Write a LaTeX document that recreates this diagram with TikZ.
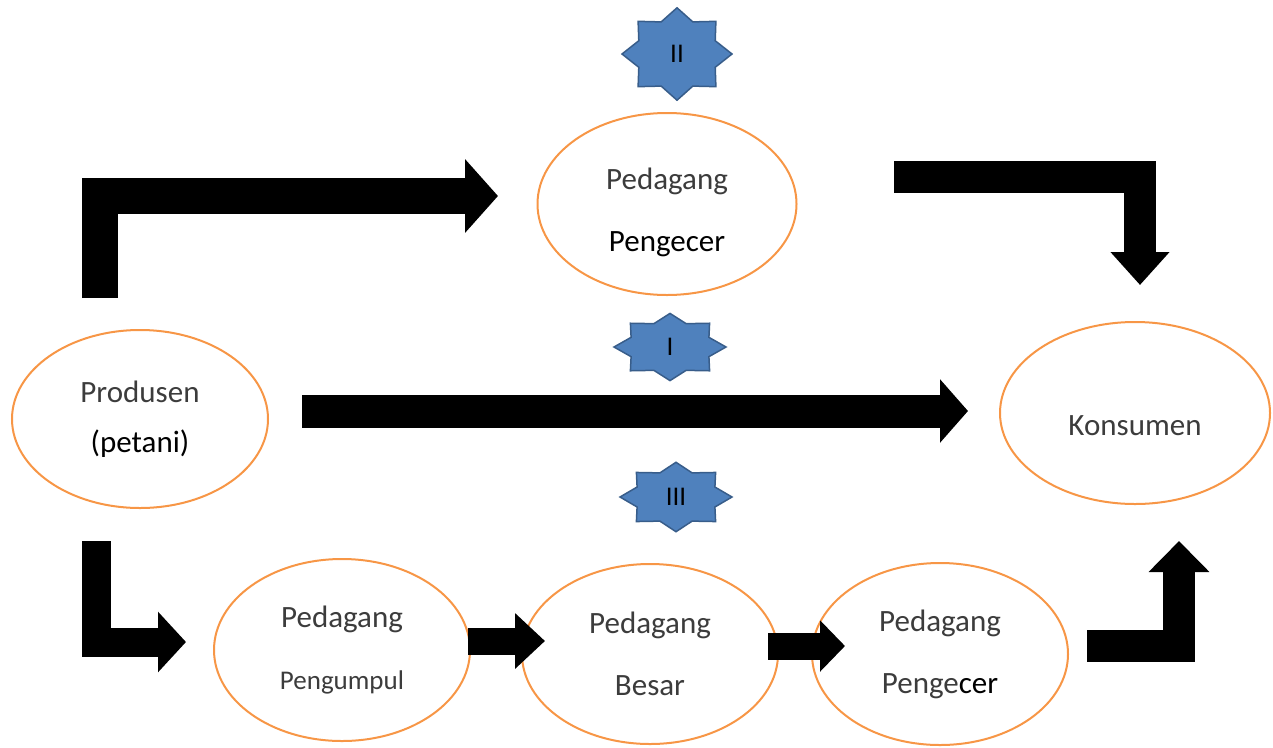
\documentclass[tikz,border=0pt]{standalone}
\usepackage{fontspec}
\setmainfont{Carlito}
\usetikzlibrary{arrows.meta,shapes.geometric}

\definecolor{ringorange}{HTML}{F79646}
\definecolor{badgeblue}{HTML}{4F81BD}
\definecolor{badgeedge}{HTML}{385D8A}
\definecolor{inkgray}{HTML}{3C3C3C}

\begin{document}
\begin{tikzpicture}[
		x=1pt, y=-1pt,
		actor/.style={
			ellipse,
			draw=ringorange,
			line width=2pt,
			inner sep=0pt,
			minimum width=256pt,
			minimum height=180pt,
			align=center,
			text=inkgray,
			font=\fontsize{31}{62}\selectfont
		},
		badge/.style={
			star,
			star points=8,
			star point ratio=1.33,
			fill=badgeblue,
			draw=badgeedge,
			line width=1.5pt,
			inner sep=0pt,
			transform shape
		},
		badgelabel/.style={font=\fontsize{27}{30}\selectfont, text=black},
		flow/.style n args={3}{
			line width=#1,
			line cap=butt,
			line join=miter,
			-{Triangle[length=#2, width=#3]}
		}
		]
		\useasboundingbox (0,0) rectangle (1273,747);
		
		% Actors
		\node[actor, minimum width=256pt, minimum height=178pt, font=\fontsize{31}{50}\selectfont]
		(prod) at (140,419) {Produsen\\\textcolor{black}{(petani)}};
		\node[actor, minimum width=259pt, minimum height=182pt, text height=101pt] (ecer) at (667,204) {%
			Pedagang\\
			\textcolor{black}{Pengecer}};
		\node[actor, minimum width=270pt, minimum height=182pt, text height=50pt, text depth=6pt]
		(kons) at (1135,413) {Konsumen};
		\node[actor, minimum height=182pt] (kumpul) at (342,650) {%
			Pedagang\\
			{\fontsize{27}{62}\selectfont Pengumpul}};
		\node[actor, minimum height=180pt] (besar) at (650,654) {Pedagang\\Besar};
		\node[actor, minimum height=182pt] (ecer2) at (940,654) {%
			Pedagang\\
			Penge\textcolor{black}{cer}};
		
		% Channel badges
		\begin{scope}[shift={(677,54)}, yscale=0.84]
			\node[badge, minimum size=110pt] (b2) {};
		\end{scope}
		\begin{scope}[shift={(670,347)}, yscale=0.6]
			\node[badge, minimum size=112pt] (b1) {};
		\end{scope}
		\begin{scope}[shift={(676,497)}, yscale=0.62]
			\node[badge, minimum size=112pt] (b3) {};
		\end{scope}
		\node[badgelabel] (t2) at (b2) {II};
		\node[badgelabel] (t1) at (b1) {I};
		\node[badgelabel] (t3) at (b3) {III};
		
		% Arrow ends
		\coordinate (p2up) at (100,298);
		\coordinate (up2e) at (498,196);
		\coordinate (e2ko) at (894,177);
		\coordinate (ko1) at (1140,285);
		\coordinate (p2ko) at (302,411);
		\coordinate (ko2) at (968,411);
		\coordinate (p2down) at (96,541);
		\coordinate (down2k) at (186,642);
		\coordinate (k2b) at (468,641);
		\coordinate (b1in) at (545,641);
		\coordinate (b2e) at (768,646);
		\coordinate (e2in) at (845,646);
		\coordinate (e2up) at (1087,646);
		\coordinate (ko3) at (1179,541);
		
		% Channel II
		\draw[flow={36pt}{33pt}{72pt}] (p2up) |- (up2e);
		\draw[flow={32pt}{33pt}{57pt}] (e2ko) -| (ko1);
		
		% Channel I
		\draw[flow={33pt}{28pt}{62pt}] (p2ko) -- (ko2);
		
		% Channel III
		\draw[flow={29pt}{28pt}{59pt}] (p2down) |- (down2k);
		\draw[flow={27pt}{30pt}{54pt}] (k2b) -- (b1in);
		\draw[flow={27pt}{25pt}{50pt}] (b2e) -- (e2in);
		\draw[flow={32pt}{31pt}{59pt}] (e2up) -| (ko3);
		
\end{tikzpicture}
\end{document}
